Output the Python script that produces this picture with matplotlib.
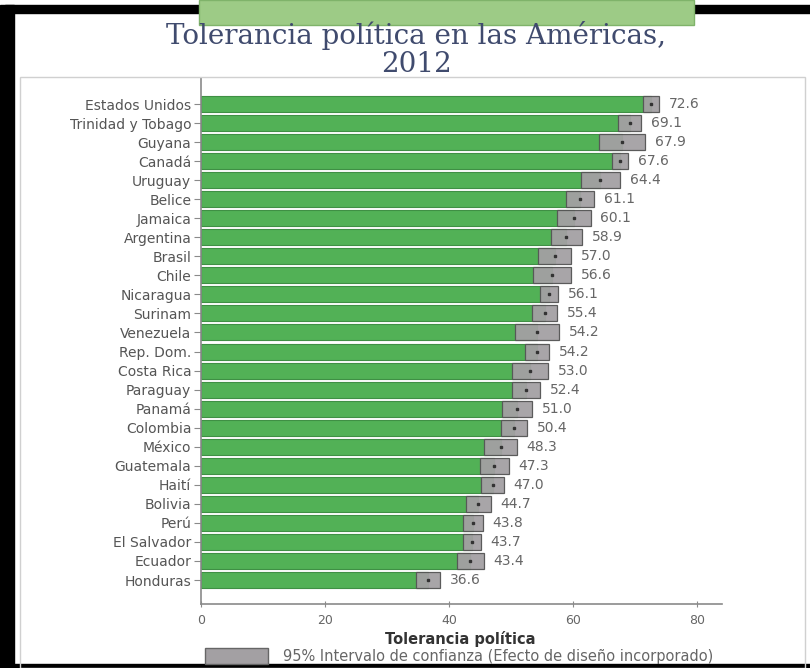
import numpy as np
import matplotlib
matplotlib.use("Agg")
from matplotlib import pyplot as plt
from matplotlib.patches import Rectangle

# Data
paises = ["Estados Unidos", "Trinidad y Tobago", "Guyana", "Canadá", "Uruguay",
          "Belice", "Jamaica", "Argentina", "Brasil", "Chile", "Nicaragua",
          "Surinam", "Venezuela", "Rep. Dom.", "Costa Rica", "Paraguay",
          "Panamá", "Colombia", "México", "Guatemala", "Haití", "Bolivia",
          "Perú", "El Salvador", "Ecuador", "Honduras"]
tolerancia = [72.6, 69.1, 67.9, 67.6, 64.4, 61.1, 60.1, 58.9, 57.0, 56.6, 56.1,
              55.4, 54.2, 54.2, 53.0, 52.4, 51.0, 50.4, 48.3, 47.3, 47.0, 44.7,
              43.8, 43.7, 43.4, 36.6]
# half width of the 95% confidence interval
ic95 = [1.3, 1.8, 3.7, 1.3, 3.2, 2.2, 2.7, 2.5, 2.6, 3.0, 1.5,
        2.0, 3.6, 1.9, 2.9, 2.2, 2.4, 2.1, 2.6, 2.3, 1.8, 2.0,
        1.6, 1.4, 2.2, 1.9]
xticks = [0, 20, 40, 60, 80]

W, H = 810, 668
fig = plt.figure(figsize=(W / 100, H / 100), dpi=100)
fig.patch.set_facecolor("white")

def px(x, y):
    """pixel coords (from top-left) -> figure fraction"""
    return x / W, 1 - y / H

# slide frame
fig.patches.append(Rectangle((0, 0), 14 / W, 1 - 5 / H, transform=fig.transFigure,
                             color="black", zorder=0))
fig.patches.append(Rectangle((5 / W, 1 - 13 / H), 1, 8 / H, transform=fig.transFigure,
                             color="black", zorder=0))
fig.patches.append(Rectangle((0, 0), 1, 4 / H, transform=fig.transFigure,
                             color="black", zorder=0))
fig.patches.append(Rectangle(px(20, 668), (805 - 20) / W, (668 - 77) / H,
                             transform=fig.transFigure, facecolor="none",
                             edgecolor="#d0d0d0", linewidth=1, zorder=0))
fig.patches.append(Rectangle(px(199, 25), (694 - 199) / W, 25 / H,
                             transform=fig.transFigure, facecolor="#9dcb86",
                             edgecolor="#7fb36a", linewidth=1, zorder=1))

# title
tcol = "#404b6e"
fig.text(*px(416, 44), "Tolerancia política en las Américas,", ha="center",
         va="baseline", fontsize=20, family="DejaVu Serif", color=tcol)
fig.text(*px(416, 72), "2012", ha="center", va="baseline", fontsize=20,
         family="DejaVu Serif", color=tcol)

ax = fig.add_axes([201 / W, 1 - 604 / H, (722 - 201) / W, (604 - 78) / H])
y = np.arange(len(paises))
m = np.array(tolerancia)
e = np.array(ic95)

ax.barh(y, m, height=0.84, color="#52b156", edgecolor="#3f8f44", linewidth=0.8,
        zorder=2)
ax.barh(y, 2 * e, left=m - e, height=0.84, color="#a3a0a3", edgecolor="#555555",
        linewidth=0.9, alpha=0.95, zorder=3)
ax.plot(m, y, "s", color="#333333", markersize=2, zorder=4)

for yi, v, ei in zip(y, m, e):
    ax.text(v + ei + 1.6, yi, f"{v:.1f}", va="center", ha="left", fontsize=10,
            color="#666666")

ax.set_xlim(0, 84)
ax.set_ylim(25 + 1.26, -1.366)
ax.set_yticks(y)
ax.set_yticklabels(paises, fontsize=10, color="#555555")
ax.set_xticks(xticks)
ax.set_xticklabels([str(t) for t in xticks], fontsize=9, color="#666666")
for s in ["top", "right"]:
    ax.spines[s].set_visible(False)
for s in ["left", "bottom"]:
    ax.spines[s].set_color("#8a8a8a")
    ax.spines[s].set_linewidth(1.2)
ax.tick_params(axis="y", length=5, color="#8a8a8a", pad=2)
ax.tick_params(axis="x", length=4, direction="inout", color="#8a8a8a", pad=5)

fig.text(*px(460, 639), "Tolerancia política", ha="center", va="center",
         fontsize=10.5, weight="bold", color="#333333")

# legend
fig.patches.append(Rectangle(px(205, 664), 63 / W, 16 / H, transform=fig.transFigure,
                             facecolor="#a3a0a3", edgecolor="#666666", linewidth=1))
fig.text(*px(283, 656), "95% Intervalo de confianza (Efecto de diseño incorporado)",
         ha="left", va="center", fontsize=10.5, color="#666666")

fig.savefig("out.png", dpi=100)
